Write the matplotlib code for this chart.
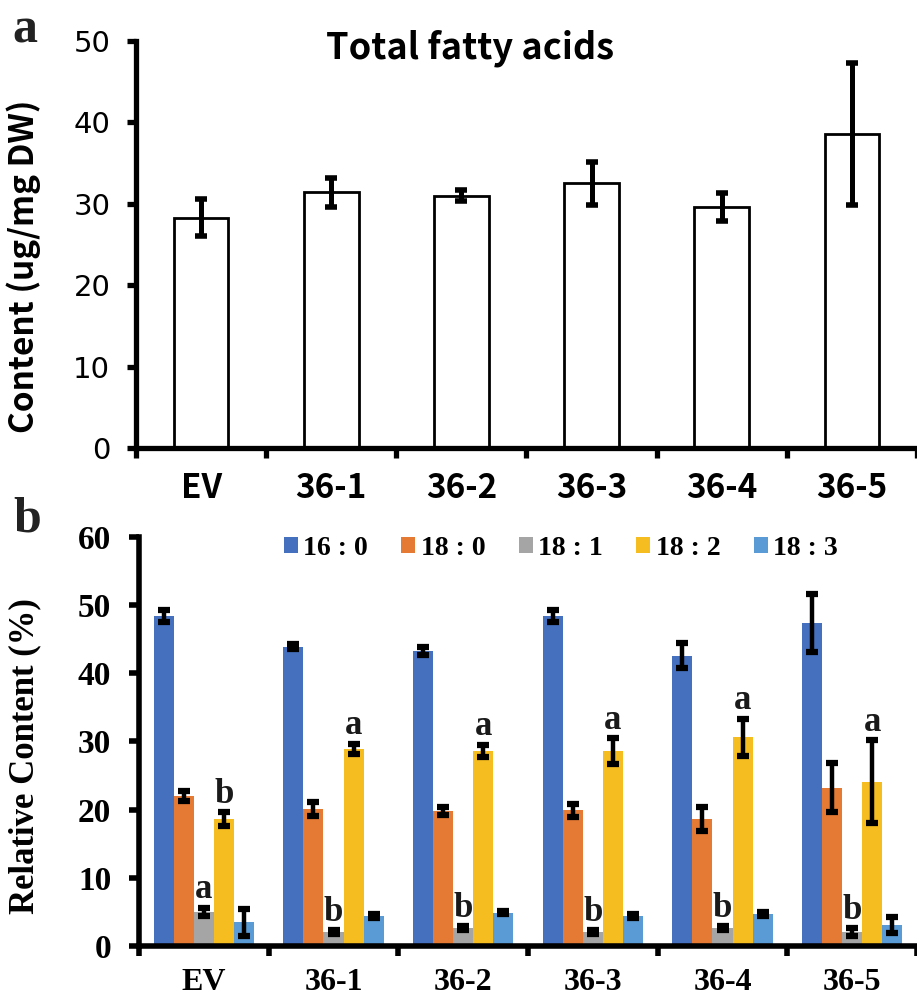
import numpy as np
import matplotlib
matplotlib.use("Agg")
import matplotlib.pyplot as plt
from matplotlib.patches import Patch

# panel a: total fatty acids
lines = ["EV", "36-1", "36-2", "36-3", "36-4", "36-5"]
total_mean = [28.3, 31.4, 31.0, 32.5, 29.6, 38.6]
total_err = [2.3, 1.8, 0.7, 2.6, 1.7, 8.7]

# panel b: relative content of each fatty acid
fa_names = ["16 : 0", "18 : 0", "18 : 1", "18 : 2", "18 : 3"]
fa_colors = ["#4470BE", "#E57A34", "#A5A5A5", "#F5BD1F", "#5B9BD5"]
c16_0 = [48.4, 43.9, 43.3, 48.4, 42.6, 47.4]
c18_0 = [22.0, 20.1, 19.8, 19.9, 18.6, 23.2]
c18_1 = [5.0, 2.0, 2.6, 2.0, 2.6, 2.0]
c18_2 = [18.6, 28.9, 28.6, 28.6, 30.6, 24.1]
c18_3 = [3.5, 4.4, 4.9, 4.4, 4.7, 3.1]
e16_0 = [0.9, 0.4, 0.6, 0.9, 1.8, 4.2]
e18_0 = [0.8, 1.0, 0.6, 1.0, 1.8, 3.6]
e18_1 = [0.6, 0.3, 0.3, 0.3, 0.3, 0.6]
e18_2 = [1.0, 0.8, 0.9, 1.9, 2.7, 6.1]
e18_3 = [2.0, 0.3, 0.2, 0.3, 0.3, 1.2]
# significance letters for 18:1 and 18:2
sig_18_1 = ["a", "b", "b", "b", "b", "b"]
sig_18_2 = ["b", "a", "a", "a", "a", "a"]

fig = plt.figure(figsize=(9.17, 10.05), dpi=100)

sans = ["Noto Sans CJK SC", "DejaVu Sans"]
serif = ["Liberation Serif", "DejaVu Serif"]

# ---------------- panel a ----------------
axa = fig.add_axes([0.1483, 0.5542, 0.8517, 0.4050])
x = np.arange(len(lines))
axa.bar(x, total_mean, width=0.42, color="white", edgecolor="black", linewidth=2, zorder=2)
axa.errorbar(x, total_mean, yerr=total_err, fmt="none", ecolor="black",
             elinewidth=3.6, capsize=4, capthick=4, zorder=3)
axa.set_xlim(-0.5, len(lines) - 0.5)
axa.set_ylim(0, 50)
axa.set_yticks([0, 10, 20, 30, 40, 50])
axa.set_xticks(x)
axa.set_xticks(np.arange(-0.5, len(lines), 1.0), minor=True)
axa.set_xticklabels(lines, family=sans, fontsize=24, weight="bold")
for lab in axa.get_yticklabels():
    lab.set_family(["DejaVu Sans"])
    lab.set_fontsize(21)
axa.tick_params(axis="x", which="major", length=0, pad=17)
axa.tick_params(axis="x", which="minor", length=7, width=3.8, direction="out")
axa.tick_params(axis="y", length=6.5, width=3.8, direction="out", pad=12)
for s in ["top", "right"]:
    axa.spines[s].set_visible(False)
for s in ["left", "bottom"]:
    axa.spines[s].set_linewidth(3.8)
axa.set_ylabel("Content (ug/mg DW)", family=sans, fontsize=24, weight="bold")
axa.yaxis.set_label_coords(-0.121, 0.447)
axa.text(0.428, 0.956, "Total fatty acids", transform=axa.transAxes, ha="center",
         va="baseline", family=sans, fontsize=26, weight="bold")

# ---------------- panel b ----------------
axb = fig.add_axes([0.1516, 0.0587, 0.8484, 0.4070])
vals = [c16_0, c18_0, c18_1, c18_2, c18_3]
errs = [e16_0, e18_0, e18_1, e18_2, e18_3]
w = 0.155
for i, (v, e, c) in enumerate(zip(vals, errs, fa_colors)):
    xi = x + (i - 2) * w
    axb.bar(xi, v, width=w, color=c, zorder=2)
    axb.errorbar(xi, v, yerr=e, fmt="none", ecolor="black", elinewidth=3.2,
                 capsize=4, capthick=4.5, zorder=3)

# significance letters
for j in range(len(lines)):
    for i, sig in ((2, sig_18_1), (3, sig_18_2)):
        top = vals[i][j] + errs[i][j]
        axb.text(x[j] + (i - 2) * w, top + 1.4, sig[j], ha="center", va="baseline",
                 family=serif, weight="bold", fontsize=25, color="#1a1a1a")

axb.set_xlim(-0.5, len(lines) - 0.5)
axb.set_ylim(0, 60)
axb.set_yticks([0, 10, 20, 30, 40, 50, 60])
axb.set_xticks(x)
axb.set_xticks(np.arange(-0.5, len(lines), 1.0), minor=True)
axb.set_xticklabels(lines, family=serif, fontsize=23, weight="bold")
for lab in axb.get_yticklabels():
    lab.set_family(serif)
    lab.set_weight("bold")
    lab.set_fontsize(24)
axb.tick_params(axis="x", which="major", length=0, pad=16)
axb.tick_params(axis="x", which="minor", length=7, width=4, direction="out")
axb.tick_params(axis="y", length=7, width=4, direction="out", pad=13)
for s in ["top", "right"]:
    axb.spines[s].set_visible(False)
for s in ["left", "bottom"]:
    axb.spines[s].set_linewidth(4)
axb.set_ylabel("Relative Content (%)", family=serif, fontsize=25, weight="bold")
axb.yaxis.set_label_coords(-0.125, 0.465)

handles = [Patch(facecolor=c, edgecolor="none") for c in fa_colors]
axb.legend(handles, fa_names, loc="center left", bbox_to_anchor=(0.186, 0.973),
           ncol=5, frameon=False, borderaxespad=0, borderpad=0,
           handlelength=0.5, handleheight=0.5, handletextpad=0.2,
           columnspacing=1.2, prop={"family": serif, "weight": "bold", "size": 20})

# panel letters
fig.text(0.013, 0.958, "a", family=serif, weight="bold", fontsize=36, color="#222222")
fig.text(0.015, 0.4716, "b", family=serif, weight="bold", fontsize=36, color="#222222")

fig.savefig("out.png", dpi=100)
